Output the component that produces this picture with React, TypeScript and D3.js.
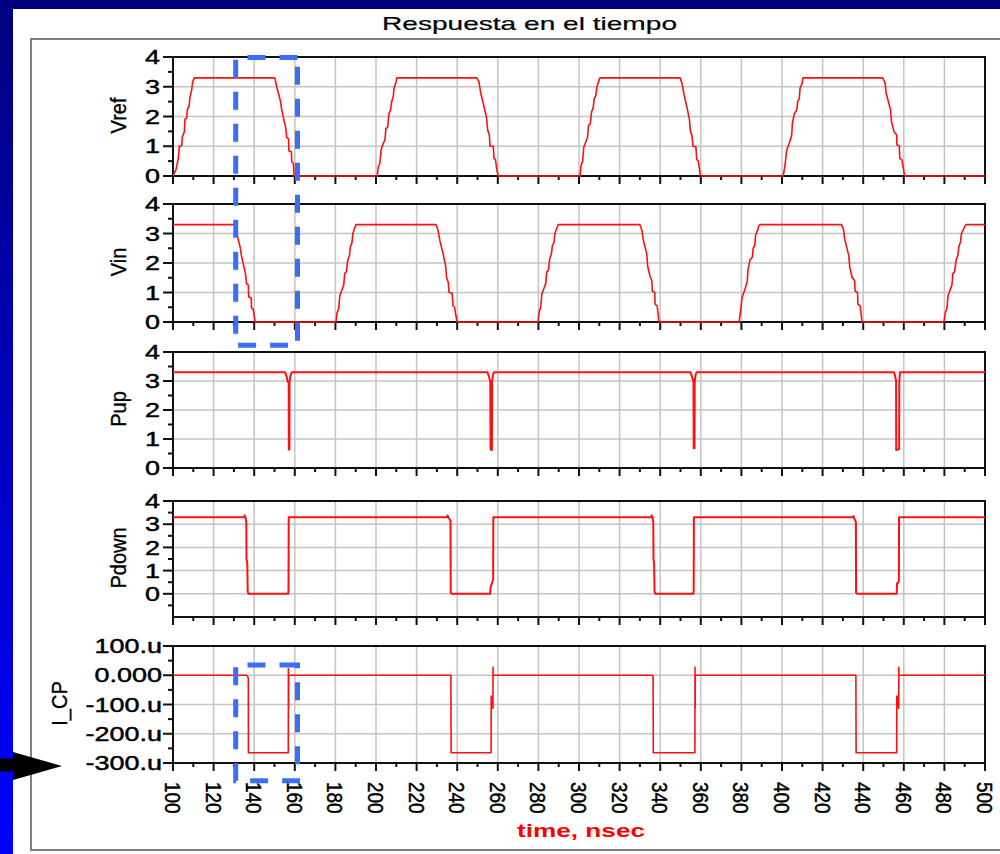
import React, { useEffect } from "react";
import * as d3 from "d3";

// ---------------- data (time in ns, values in V or µA) ----------------
const vref: [number, number][] = [
  [100, 0], [100.3, 0.05], [101.5, 0.22], [102.6, 0.59], [103.1, 1.0], [104.3, 1.02], [104.6, 1.32], [105.6, 1.49],
  [105.9, 1.92], [106.7, 1.94], [107.1, 2.24], [107.9, 2.35], [108.4, 2.67], [109.2, 2.89], [109.7, 3.17], [110.5, 3.3],
  [150.2, 3.3], [151.1, 3.0], [153.0, 2.5], [153.5, 2.25], [154.8, 1.83], [155.5, 1.64], [156.0, 1.3], [156.9, 1.25],
  [157.1, 0.84], [158.3, 0.82], [158.5, 0.48], [159.3, 0.42], [159.7, 0],
  [200.6, 0], [201.1, 0.31], [201.9, 0.42], [202.5, 0.87], [203.6, 1.1], [204.4, 1.22], [204.9, 1.6], [205.7, 1.63],
  [206.4, 2.1], [207.2, 2.22], [207.7, 2.5], [208.5, 2.67], [208.9, 2.95], [209.9, 3.17], [210.2, 3.3],
  [249.6, 3.3], [250.7, 3.17], [251.6, 2.78], [253.2, 2.33], [254.5, 1.94], [255.0, 1.55], [255.8, 1.38], [256.2, 1.0],
  [257.8, 1.0], [258.1, 0.59], [258.9, 0.54], [259.4, 0.26], [260.2, 0],
  [300.5, 0], [301.0, 0.35], [301.8, 0.5], [302.3, 0.95], [303.4, 1.15], [304.2, 1.3], [304.7, 1.7], [305.5, 1.75],
  [306.2, 2.15], [307.0, 2.3], [307.5, 2.6], [308.3, 2.7], [308.8, 3.0], [309.8, 3.2], [310.3, 3.3],
  [349.8, 3.3], [350.8, 3.1], [351.7, 2.75], [353.2, 2.3], [354.4, 1.9], [354.9, 1.5], [355.7, 1.35], [356.1, 1.0],
  [357.6, 0.98], [358.0, 0.55], [358.8, 0.5], [359.2, 0.3], [359.8, 0],
  [400.6, 0], [401.5, 0.37], [402.3, 0.87], [403.6, 1.1], [404.8, 1.38], [405.1, 1.77], [406.1, 2.1], [407.3, 2.22],
  [407.7, 2.5], [408.5, 2.6], [408.9, 2.95], [410.0, 3.13], [410.2, 3.27], [410.4, 3.3],
  [449.6, 3.3], [450.8, 3.13], [451.3, 2.78], [453.5, 2.22], [453.9, 1.83], [455.2, 1.49], [456.5, 1.38], [456.6, 1.04],
  [457.8, 1.02], [458.0, 0.59], [459.1, 0.54], [460.4, 0], [500, 0],
];

const vin: [number, number][] = [
  [100, 3.3], [130.5, 3.3], [131.4, 3.0], [133.2, 2.5], [133.7, 2.25], [135.0, 1.85], [135.7, 1.65], [136.2, 1.3],
  [137.1, 1.25], [137.3, 0.85], [138.5, 0.82], [138.7, 0.48], [139.6, 0.42], [140.4, 0],
  [180.3, 0], [180.8, 0.3], [181.6, 0.45], [182.2, 0.9], [183.3, 1.1], [184.1, 1.25], [184.6, 1.65], [185.4, 1.7],
  [186.1, 2.1], [186.9, 2.25], [187.4, 2.55], [188.2, 2.7], [188.6, 3.0], [189.6, 3.2], [190.1, 3.3],
  [229.6, 3.3], [230.6, 3.1], [231.5, 2.75], [233.1, 2.3], [234.3, 1.9], [234.8, 1.5], [235.6, 1.35], [236.0, 1.0],
  [237.5, 0.98], [237.9, 0.55], [238.7, 0.5], [239.2, 0.28], [240.0, 0],
  [279.8, 0], [280.4, 0.35], [281.1, 0.5], [281.7, 0.95], [282.8, 1.15], [283.6, 1.3], [284.1, 1.7], [284.9, 1.75],
  [285.6, 2.15], [286.4, 2.3], [286.9, 2.6], [287.7, 2.7], [288.1, 3.0], [289.2, 3.2], [289.7, 3.3],
  [330.0, 3.3], [331.0, 3.1], [331.6, 2.8], [333.4, 2.3], [333.8, 1.9], [335.0, 1.55], [335.9, 1.4], [336.1, 1.05],
  [337.3, 1.0], [337.5, 0.6], [338.5, 0.55], [339.4, 0],
  [378.8, 0], [379.6, 0.37], [380.4, 0.85], [381.7, 1.1], [382.9, 1.38], [383.2, 1.75], [384.2, 2.1], [385.4, 2.2],
  [385.8, 2.5], [386.6, 2.6], [387.0, 2.95], [388.1, 3.13], [388.6, 3.27], [389.2, 3.3],
  [429.3, 3.3], [430.3, 3.13], [430.9, 2.8], [432.9, 2.25], [433.4, 1.85], [434.6, 1.5], [435.8, 1.4], [436.0, 1.05],
  [437.2, 1.0], [437.4, 0.6], [438.5, 0.55], [439.4, 0],
  [479.8, 0], [480.4, 0.3], [481.2, 0.45], [481.8, 0.9], [482.9, 1.1], [483.7, 1.25], [484.2, 1.65], [485.0, 1.7],
  [485.8, 2.1], [486.6, 2.25], [487.1, 2.55], [487.9, 2.7], [488.4, 3.0], [489.8, 3.2], [490.6, 3.3], [500, 3.3],
];

const pup: [number, number][] = [
  [100, 3.3], [155.2, 3.3], [156.0, 3.15], [156.5, 2.97], [157.0, 2.95], [157.05, 0.64], [157.35, 0.64], [157.4, 2.95],
  [157.9, 3.2], [158.5, 3.3],
  [254.9, 3.3], [255.7, 3.15], [256.3, 2.97], [256.45, 0.64], [257.1, 0.62], [257.2, 2.97], [257.6, 3.2], [258.1, 3.3],
  [354.9, 3.3], [355.7, 3.15], [356.4, 2.97], [356.5, 0.68], [356.9, 0.68], [357.0, 2.97], [357.4, 3.2], [357.9, 3.3],
  [455.2, 3.3], [455.8, 3.15], [456.2, 3.0], [456.25, 0.62], [457.7, 0.65], [457.8, 3.0], [458.1, 3.3], [500, 3.3],
];

const pdown: [number, number][] = [
  [100, 3.3], [135.1, 3.3], [135.3, 3.38], [135.8, 3.25], [136.1, 3.1], [136.2, 1.5], [136.6, 1.3], [136.8, 0.1],
  [137.2, 0], [156.7, 0], [156.9, 0.15], [157.0, 3.3],
  [235.1, 3.3], [235.2, 3.38], [236.0, 3.25], [236.7, 3.15], [236.8, 0.05], [237.3, 0], [256.2, 0], [256.5, 0.29],
  [257.3, 0.51], [257.7, 0.6], [257.8, 3.3],
  [335.6, 3.3], [335.8, 3.38], [336.3, 3.25], [336.6, 3.1], [336.7, 1.5], [337.0, 1.3], [337.2, 0.1], [337.6, 0],
  [356.3, 0], [356.5, 0.12], [356.6, 3.3],
  [435.1, 3.3], [435.2, 3.35], [436.0, 3.17], [436.4, 3.1], [436.5, 0.05], [436.9, 0], [456.5, 0], [456.7, 0.45],
  [457.4, 0.5], [457.6, 0.6], [457.65, 3.3], [500, 3.3],
];

const icp: [number, number][] = [
  [100, 0], [136.0, 0], [136.7, -3], [137.1, -10], [137.15, -265], [156.8, -265], [156.85, 23], [156.9, -70],
  [156.95, -112], [157.0, 0],
  [236.9, 0], [237.0, -265], [256.7, -265], [256.75, -71], [257.1, -80], [257.6, -113], [257.65, 27], [257.7, 0],
  [336.2, 0], [336.5, -4], [336.6, -265], [357.1, -265], [357.15, 27], [357.2, -75], [357.25, -112], [357.3, 0],
  [436.4, 0], [436.5, -265], [456.5, -265], [456.55, -71], [457.0, -79], [457.5, -113], [457.55, 27], [457.6, 0],
  [500, 0],
];

const xTickValues = [100, 120, 140, 160, 180, 200, 220, 240, 260, 280, 300, 320, 340, 360, 380, 400, 420, 440, 460, 480, 500];
const xMinorValues = [110, 130, 150, 170, 190, 210, 230, 250, 270, 290, 310, 330, 350, 370, 390, 410, 430, 450, 470, 490];
const voltTicks = [0, 1, 2, 3, 4];
const voltLabels = ["0", "1", "2", "3", "4"];
const voltMinor = [0.5, 1.5, 2.5, 3.5];
const voltGrid = [1, 2, 3];
const pdownMinor = [-0.5, 0.5, 1.5, 2.5, 3.5];
const pdownGrid = [0, 1, 2, 3];
const icpTicks = [100, 0, -100, -200, -300];
const icpLabels = ["100.u", "0.000", "-100.u", "-200.u", "-300.u"];
const icpMinor = [50, -50, -150, -250];
const icpGrid = [0, -100, -200];

const titleText = "Respuesta en el tiempo";
const xAxisTitle = "time, nsec";

// ---------------- layout ----------------
const W = 1000;
const H = 854;
const X0 = 173;
const X1 = 985;
const FONT = "'Liberation Sans', Arial, sans-serif";
const RED = "#ff1010";
const DASH_BLUE = "#3a6ef4";

type Panel = {
  name: string;
  data: [number, number][];
  top: number;
  bottom: number;
  domain: [number, number];
  ticks: number[];
  labels: string[];
  minor: number[];
  grid: number[];
  labelRight: number;
  titleX: number;
  width: number;
};

const panels: Panel[] = [
  { name: "Vref", data: vref, top: 57, bottom: 176, domain: [0, 4], ticks: voltTicks, labels: voltLabels, minor: voltMinor, grid: voltGrid, labelRight: 160, titleX: 126, width: 1.6 },
  { name: "Vin", data: vin, top: 204, bottom: 322, domain: [0, 4], ticks: voltTicks, labels: voltLabels, minor: voltMinor, grid: voltGrid, labelRight: 160, titleX: 126, width: 1.6 },
  { name: "Pup", data: pup, top: 352, bottom: 468, domain: [0, 4], ticks: voltTicks, labels: voltLabels, minor: voltMinor, grid: voltGrid, labelRight: 160, titleX: 126, width: 2 },
  { name: "Pdown", data: pdown, top: 501, bottom: 617, domain: [-1, 4], ticks: voltTicks, labels: voltLabels, minor: pdownMinor, grid: pdownGrid, labelRight: 160, titleX: 126, width: 2 },
  { name: "I_CP", data: icp, top: 646, bottom: 763, domain: [-300, 100], ticks: icpTicks, labels: icpLabels, minor: icpMinor, grid: icpGrid, labelRight: 162, titleX: 67, width: 1.6 },
];

const x = d3.scaleLinear().domain([100, 500]).range([X0, X1]);

function PanelView({ p, idx, last }: { p: Panel; idx: number; last: boolean }) {
  const y = d3.scaleLinear().domain(p.domain).range([p.bottom, p.top]);
  const line = d3
    .line<[number, number]>()
    .x((d) => x(d[0]))
    .y((d) => y(d[1]));
  const clipId = `clip-${idx}`;
  const midY = (p.top + p.bottom) / 2;
  return (
    <g>
      <defs>
        <clipPath id={clipId}>
          <rect x={X0} y={p.top - 1} width={X1 - X0} height={p.bottom - p.top + 2} />
        </clipPath>
      </defs>
      {/* grid */}
      {xTickValues.slice(1, -1).map((t) => (
        <line key={`gx${t}`} x1={x(t)} x2={x(t)} y1={p.top} y2={p.bottom} stroke="#c4c4c4" strokeWidth={1.5} />
      ))}
      {p.grid.map((v) => (
        <line key={`gy${v}`} x1={X0} x2={X1} y1={y(v)} y2={y(v)} stroke="#c4c4c4" strokeWidth={1.5} />
      ))}
      {/* frame */}
      <rect x={X0} y={p.top} width={X1 - X0} height={p.bottom - p.top} fill="none" stroke="#111" strokeWidth={2} />
      {/* trace (drawn over the axis, as in the reference) */}
      <path
        d={line(p.data) || ""}
        fill="none"
        stroke={RED}
        strokeWidth={p.width}
        strokeLinejoin="round"
        clipPath={`url(#${clipId})`}
      />
      {/* left ticks */}
      {p.ticks.map((v) => (
        <line key={`lt${v}`} x1={X0 - 10} x2={X0} y1={y(v)} y2={y(v)} stroke="#111" strokeWidth={2} />
      ))}
      {p.minor.map((v) => (
        <line key={`lm${v}`} x1={X0 - 5} x2={X0} y1={y(v)} y2={y(v)} stroke="#111" strokeWidth={2} />
      ))}
      {/* bottom ticks */}
      {xTickValues.map((t) => (
        <line key={`bt${t}`} x1={x(t)} x2={x(t)} y1={p.bottom + 1} y2={p.bottom + 8} stroke="#111" strokeWidth={2} />
      ))}
      {xMinorValues.map((t) => (
        <line key={`bm${t}`} x1={x(t)} x2={x(t)} y1={p.bottom + 1} y2={p.bottom + 4} stroke="#111" strokeWidth={2} />
      ))}
      {/* tick labels */}
      {p.ticks.map((v, i) => (
        <text
          key={`tl${v}`}
          transform={`translate(${p.labelRight},${y(v)}) scale(1.35,1)`}
          textAnchor="end"
          dy="0.36em"
          fontSize={20}
          fontFamily={FONT}
          fill="#000"
          stroke="#000"
          strokeWidth={0.45}
        >
          {p.labels[i]}
        </text>
      ))}
      {/* y title */}
      <text
        transform={`translate(${p.titleX},${midY - 1}) scale(1.12,1) rotate(-90)`}
        textAnchor="middle"
        fontSize={20}
        fontFamily={FONT}
        fill="#000"
        stroke="#000"
        strokeWidth={0.3}
      >
        {p.name}
      </text>
      {last &&
        xTickValues.map((t) => (
          <text
            key={`xl${t}`}
            transform={`translate(${x(t)},782) scale(1.2,1) rotate(90)`}
            textAnchor="start"
            dy="0.35em"
            fontSize={19}
            fontFamily={FONT}
            fill="#000"
            stroke="#000"
            strokeWidth={0.4}
          >
            {String(t)}
          </text>
        ))}
    </g>
  );
}

export default function App() {
  useEffect(() => {
    document.body.style.margin = "0";
  }, []);
  const rect1 = { l: 235.7, r: 297.5, t: 57.5, b: 345.3 };
  const rect2 = { l: 235.7, r: 297.5, t: 665, b: 780.8 };
  const dashPath = (r: { l: number; r: number; t: number; b: number }) =>
    `M${r.r},${r.t}L${r.l},${r.t}L${r.l},${r.b}L${r.r},${r.b}Z`;
  return (
    <svg
      width={W}
      height={H}
      viewBox={`0 0 ${W} ${H}`}
      style={{ position: "absolute", left: 0, top: 0, display: "block" }}
    >
      <defs>
        <linearGradient id="bg" x1="0" y1="0" x2="0" y2="1">
          <stop offset="0" stopColor="#00007e" />
          <stop offset="1" stopColor="#0000ff" />
        </linearGradient>
      </defs>
      <rect x={0} y={0} width={W} height={H} fill="url(#bg)" />
      <rect x={13} y={9} width={W - 13} height={H - 9} fill="#ffffff" />
      {/* gray frame */}
      <path d={`M1001,39L31,39L31,850L1001,850`} fill="none" stroke="#808080" strokeWidth={2} />
      {/* title */}
      <text x={382} y={30} fontSize={19} fontFamily={FONT} textLength={295} lengthAdjust="spacingAndGlyphs" fill="#000" stroke="#000" strokeWidth={0.2}>
        {titleText}
      </text>
      {panels.map((p, i) => (
        <PanelView key={p.name} p={p} idx={i} last={i === panels.length - 1} />
      ))}
      {/* x axis title */}
      <text
        x={517}
        y={837}
        fontSize={18}
        fontWeight="bold"
        fontFamily={FONT}
        fill="#ff0000"
        textLength={128}
        lengthAdjust="spacingAndGlyphs"
      >
        {xAxisTitle}
      </text>
      {/* dashed highlight boxes */}
      <path d={dashPath(rect1)} fill="none" stroke={DASH_BLUE} strokeWidth={5} strokeDasharray="18 14" />
      <path d={dashPath(rect2)} fill="none" stroke={DASH_BLUE} strokeWidth={5} strokeDasharray="18 14" />
      {/* arrow */}
      <rect x={0} y={758.5} width={15} height={13} fill="#000" />
      <path d="M13,752L62,766L13,780Z" fill="#000" />
    </svg>
  );
}
